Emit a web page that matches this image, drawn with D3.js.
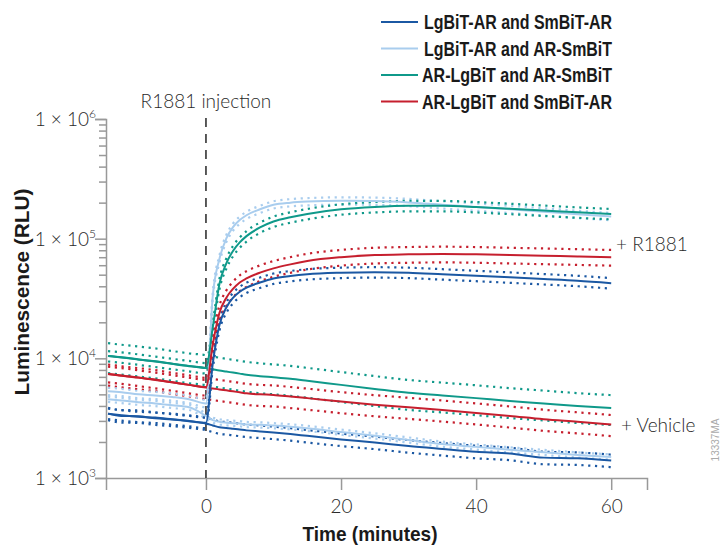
<!DOCTYPE html>
<html lang="en">
<head>
  <meta charset="UTF-8" />
  <title>AR NanoBiT kinetics</title>
  <style>
    html, body {
      margin: 0;
      padding: 0;
      background: #fff;
    }
    .light {
      font-family: Lato, "Open Sans", sans-serif;
      font-weight: 300;
      fill: #2a2a2a;
    }
    .narrow {
      font-family: "Liberation Sans Narrow", "Liberation Sans", Arial, sans-serif;
      font-weight: bold;
      fill: #1a1a1a;
    }
  </style>
</head>
<body>
  <svg id="chart" width="726" height="546"></svg>

  <script src="https://d3js.org/d3.v7.min.js"></script>
  <script>
    // time (minutes) relative to R1881 injection
    const times = [-14.5, -12.5, -10, -7.5, -5, -2.5, 0, 1, 2, 3, 4, 5, 6, 8, 10, 12.5, 15, 20, 25, 30, 35, 40, 45, 50, 55, 60];

    // LgBiT-AR and SmBiT-AR
    const lgSmR1881 = [3450, 3350, 3250, 3200, 3100, 3000, 2900, 9000, 19000, 26500, 32000, 36000, 39000, 43000, 46500, 48800, 50500, 52000, 52500, 52000, 50500, 49000, 47500, 46000, 44500, 42500];
    const lgSmVehicle = [3450, 3300, 3280, 3150, 3080, 2980, 2850, 2750, 2650, 2620, 2580, 2540, 2500, 2450, 2400, 2330, 2250, 2100, 1980, 1850, 1750, 1660, 1600, 1480, 1460, 1400];
    // LgBiT-AR and AR-SmBiT
    const lgArR1881 = [5300, 5200, 5000, 4900, 4750, 4550, 4200, 33000, 68000, 100000, 125000, 143000, 157000, 176000, 192000, 200000, 204000, 207000, 206000, 201000, 192000, 184000, 176000, 168000, 160000, 153000];
    const lgArVehicle = [4550, 4450, 4300, 4200, 4050, 3900, 3300, 3050, 2950, 2900, 2870, 2850, 2800, 2780, 2740, 2680, 2600, 2420, 2250, 2080, 1920, 1820, 1720, 1640, 1560, 1500];
    // AR-LgBiT and AR-SmBiT
    const arArR1881 = [10450, 10200, 9800, 9400, 9000, 8650, 8300, 18000, 42000, 62000, 79000, 93000, 105000, 124000, 139000, 151000, 161000, 176000, 184000, 188000, 188000, 184000, 178000, 172000, 166000, 161000];
    const arArVehicle = [10450, 10150, 9800, 9450, 9000, 8600, 8300, 8100, 7900, 7750, 7600, 7450, 7300, 7100, 6950, 6750, 6500, 6000, 5550, 5150, 4900, 4650, 4400, 4200, 4000, 3850];
    // AR-LgBiT and SmBiT-AR
    const arSmR1881 = [7400, 7200, 6900, 6600, 6300, 6000, 5750, 13000, 24000, 32000, 38000, 43000, 46500, 52000, 56500, 61000, 65000, 70000, 73000, 74000, 74500, 74000, 73000, 72000, 71000, 70000];
    const arSmVehicle = [7400, 7150, 6900, 6650, 6300, 6000, 5700, 5600, 5500, 5400, 5300, 5200, 5100, 5000, 4950, 4800, 4650, 4350, 4100, 3900, 3700, 3500, 3300, 3100, 2950, 2800];

    // relative error (SD / mean) of each construct
    const errR1881 = [0.10, 0.07, 0.10, 0.15];
    const errVehicle = [0.12, 0.05, 0.28, 0.20];

    const constructs = ["LgBiT-AR and SmBiT-AR", "LgBiT-AR and AR-SmBiT", "AR-LgBiT and AR-SmBiT", "AR-LgBiT and SmBiT-AR"];
    const colors = ["#1b58a3", "#a9cdee", "#0f998a", "#c61f2e"];

    const yTicks = [1e3, 1e4, 1e5, 1e6];
    const xTicks = [0, 20, 40, 60];

    const r1881Data = [lgSmR1881, lgArR1881, arArR1881, arSmR1881];
    const vehicleData = [lgSmVehicle, lgArVehicle, arArVehicle, arSmVehicle];

    const svg = d3.select("#chart");

    const x = d3.scaleLinear().domain([-14.8, 65.3]).range([106, 647]);
    const y = d3.scaleLog().domain([1e3, 1e6]).range([478, 119]);

    // axes
    const minor = [];
    for (let d = 1e3; d < 1e6; d *= 10) {
      for (let k = 2; k <= 9; k++) minor.push(d * k);
    }

    const yMinor = svg.append("g")
      .attr("transform", "translate(106,0)")
      .call(d3.axisLeft(y).tickValues(minor).tickSize(7).tickFormat(""));
    yMinor.select(".domain").remove();

    const yAxis = svg.append("g")
      .attr("transform", "translate(106,0)")
      .call(d3.axisLeft(y).tickValues(yTicks).tickSize(11).tickFormat(""));

    svg.selectAll(".tick line").attr("stroke", "#999").attr("stroke-width", 1.5);
    yAxis.select(".domain").attr("stroke", "#999").attr("stroke-width", 1.5);

    yTicks.forEach(v => {
      const t = svg.append("text")
        .attr("class", "light")
        .attr("x", 96)
        .attr("y", y(v) + 7)
        .attr("text-anchor", "end")
        .style("font-size", "19px");
      t.append("tspan").text("1 × 10");
      t.append("tspan")
        .attr("dy", -8)
        .style("font-size", "12px")
        .text(Math.round(Math.log10(v)));
    });

    const xAxis = svg.append("g")
      .attr("transform", "translate(0,478)")
      .call(d3.axisBottom(x).tickValues(xTicks).tickSize(12).tickPadding(10));
    xAxis.select(".domain").attr("stroke", "#999").attr("stroke-width", 1.5);
    xAxis.selectAll(".tick line").attr("stroke", "#999").attr("stroke-width", 1.5);
    xAxis.selectAll(".tick text")
      .attr("class", "light")
      .style("font-size", "19px");

    // injection marker
    svg.append("line")
      .attr("x1", x(0)).attr("x2", x(0))
      .attr("y1", 118).attr("y2", 478)
      .attr("stroke", "#333")
      .attr("stroke-width", 1.6)
      .attr("stroke-dasharray", "9,7");

    svg.append("text")
      .attr("class", "light")
      .attr("x", x(0))
      .attr("y", 108)
      .attr("text-anchor", "middle")
      .style("font-size", "19px")
      .text("R1881 injection");

    // error dots then mean lines
    const lineFor = f => d3.line()
      .x((d, i) => x(times[i]))
      .y(d => y(f(d)))
      .curve(d3.curveMonotoneX);

    const groups = [
      { data: vehicleData, err: errVehicle },
      { data: r1881Data, err: errR1881 }
    ];

    groups.forEach(g => {
      g.data.forEach((vals, i) => {
        [1 + g.err[i], 1 - g.err[i]].forEach(k => {
          svg.append("path")
            .datum(vals)
            .attr("d", lineFor(v => v * k))
            .attr("fill", "none")
            .attr("stroke", colors[i])
            .attr("stroke-width", 2.2)
            .attr("stroke-dasharray", "2.2,4.6");
        });
      });
    });

    groups.forEach(g => {
      g.data.forEach((vals, i) => {
        svg.append("path")
          .datum(vals)
          .attr("d", lineFor(v => v))
          .attr("fill", "none")
          .attr("stroke", colors[i])
          .attr("stroke-width", 2);
      });
    });

    // end labels
    svg.append("text")
      .attr("class", "light")
      .attr("x", 616).attr("y", 251)
      .style("font-size", "19px")
      .text("+ R1881");
    svg.append("text")
      .attr("class", "light")
      .attr("x", 621).attr("y", 432)
      .style("font-size", "19px")
      .text("+ Vehicle");

    // legend
    const legend = svg.append("g");
    constructs.forEach((name, i) => {
      const ly = 22 + i * 26.5;
      legend.append("line")
        .attr("x1", 381).attr("x2", 418)
        .attr("y1", ly).attr("y2", ly)
        .attr("stroke", colors[i])
        .attr("stroke-width", 2.2);
      legend.append("text")
        .attr("class", "narrow")
        .attr("x", i < 2 ? 424 : 422)
        .attr("y", ly + 7)
        .attr("textLength", i < 2 ? 188 : 190)
        .attr("lengthAdjust", "spacingAndGlyphs")
        .style("font-size", "20px")
        .text(name);
    });

    // axis titles
    svg.append("text")
      .attr("class", "narrow")
      .attr("transform", "translate(29,292) rotate(-90)")
      .attr("text-anchor", "middle")
      .attr("textLength", 207)
      .attr("lengthAdjust", "spacingAndGlyphs")
      .style("font-size", "21px")
      .text("Luminescence (RLU)");

    svg.append("text")
      .attr("class", "narrow")
      .attr("x", 370).attr("y", 541)
      .attr("text-anchor", "middle")
      .attr("textLength", 135)
      .attr("lengthAdjust", "spacingAndGlyphs")
      .style("font-size", "21px")
      .text("Time (minutes)");

    svg.append("text")
      .attr("transform", "translate(719,440) rotate(-90)")
      .attr("text-anchor", "middle")
      .style("font-family", "Liberation Sans, sans-serif")
      .style("font-size", "10px")
      .style("fill", "#aaa")
      .text("13337MA");
  </script>
</body>
</html>
